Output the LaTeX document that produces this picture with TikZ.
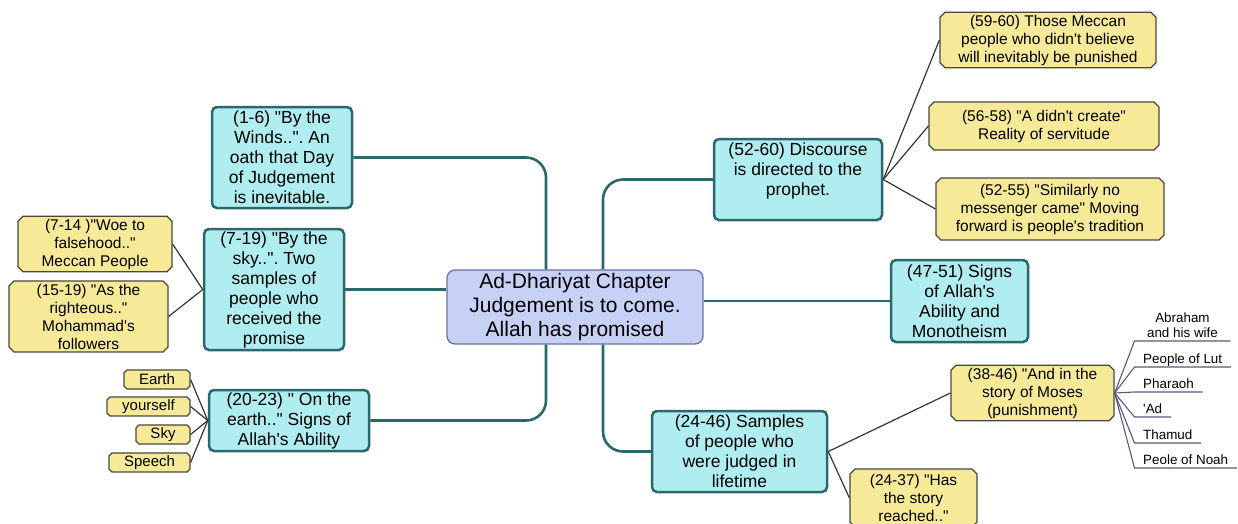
\documentclass[tikz,border=0pt]{standalone}
\usepackage{fontspec}
\setmainfont{Liberation Sans}[Ligatures=TeXOff]
\usetikzlibrary{shapes.misc}
\frenchspacing
\definecolor{cyanF}{RGB}{176,237,240}
\definecolor{tealB}{RGB}{42,104,108}
\definecolor{yelF}{RGB}{246,234,152}
\definecolor{yelB}{RGB}{72,72,60}
\definecolor{cenF}{RGB}{199,209,245}
\definecolor{cenB}{RGB}{105,115,165}
\definecolor{fanC}{RGB}{85,90,125}
\definecolor{thinC}{RGB}{55,55,50}
\begin{document}
\begin{tikzpicture}[x=1pt,y=-1pt,
  cyanbox/.style={draw=tealB,line width=2.5pt,fill=cyanF,rounded corners=5pt,align=center,inner sep=0pt,font=\fontsize{17.5}{20}\selectfont\frenchspacing},
  ybox/.style={chamfered rectangle,chamfered rectangle xsep=2.5pt,chamfered rectangle ysep=2.5pt,draw=yelB,line width=1.2pt,fill=yelF,align=center,inner sep=0pt,font=\fontsize{15.5}{18}\selectfont\frenchspacing},
  sbox/.style={ybox,chamfered rectangle xsep=1.5pt,chamfered rectangle ysep=1.5pt,font=\fontsize{15}{17}\selectfont,minimum height=19pt},
  cbox/.style={draw=cenB,line width=1.3pt,fill=cenF,rounded corners=8pt,align=center,inner sep=0pt,font=\fontsize{21}{24}\selectfont\frenchspacing},
  branch/.style={draw=tealB,line width=2.6pt,rounded corners=20pt},
  twig/.style={draw=thinC,line width=1.2pt},
  fan/.style={draw=fanC,line width=1.1pt},
  lbl/.style={inner xsep=8.5pt,inner ysep=3pt,anchor=south west,font=\fontsize{13.4}{15}\selectfont},
  lblone/.style={lbl,text depth=0pt}
]
\useasboundingbox (0,0) rectangle (1238,523);
\fill[white] (0,0) rectangle (1238,523);

% centre
\node[cbox,minimum width=256pt,minimum height=74pt] (c) at (575,307) {Ad-Dhariyat Chapter\\Judgement is to come.\\Allah has promised};

% left side
\node[cyanbox,minimum width=140pt,minimum height=101pt] (n16) at (282,157.5) {(1-6) "By the\\Winds..". An\\oath that Day\\of Judgement\\is inevitable.};
\node[cyanbox,minimum width=140pt,minimum height=121pt] (n719) at (274,289.5) {(7-19) "By the\\sky..". Two\\samples of\\people who\\received the\\promise};
\node[ybox,minimum width=154pt,minimum height=54pt] (n714) at (95,244) {(7-14 )"Woe to\\falsehood.."\\Meccan People};
\node[ybox,minimum width=159pt,minimum height=71pt] (n1519) at (88.5,316.5) {(15-19) "As the\\righteous.."\\Mohammad's\\followers};
\node[cyanbox,minimum width=160pt,minimum height=61pt] (n2023) at (289,420.5) {(20-23) " On the\\earth.." Signs of\\Allah's Ability};
\node[sbox,minimum width=66pt] (earth) at (157,379.5) {Earth};
\node[sbox,minimum width=83pt] (yours) at (148.5,406.5) {yourself};
\node[sbox,minimum width=54pt] (sky) at (163,434.5) {Sky};
\node[sbox,minimum width=81pt] (speech) at (149.5,462.5) {Speech};

% right side
\node[cyanbox,minimum width=168pt,minimum height=81pt] (n5260) at (798,179.5) {(52-60) Discourse\\is directed to the\\prophet.\\\mbox{}};
\node[ybox,minimum width=216pt,minimum height=54pt] (n5960) at (1048,40) {(59-60) Those Meccan\\people who didn't believe\\will inevitably be punished};
\node[ybox,minimum width=230pt,minimum height=48pt] (n5658) at (1044,126) {(56-58) "A didn't create"\\Reality of servitude};
\node[ybox,minimum width=228pt,minimum height=62pt] (n5255) at (1050,209) {(52-55) "Similarly no\\messenger came" Moving\\forward is people's tradition};
\node[cyanbox,minimum width=137pt,minimum height=82pt] (n4751) at (959.5,301) {(47-51) Signs\\of Allah's\\Ability and\\Monotheism};
\node[cyanbox,minimum width=175pt,minimum height=81pt] (n2446) at (739.5,451.5) {(24-46) Samples\\of people who\\were judged in\\lifetime};
\node[ybox,minimum width=163pt,minimum height=54pt] (n3846) at (1032.5,393) {(38-46) "And in the\\story of Moses\\(punishment)};
\node[ybox,minimum width=127pt,minimum height=58pt] (n2437) at (913.5,498) {(24-37) "Has\\the story\\reached.."};

% labels on the far right
\node[lbl,align=center,minimum width=95.5pt] (abr) at (1134.5,341) {Abraham\\and his wife};
\node[lblone] (lut) at (1134.5,367) {People of Lut};
\node[lblone] (pha) at (1134.5,392) {Pharaoh};
\node[lblone] (ad) at (1134.5,417) {'Ad};
\node[lblone] (tha) at (1134.5,443) {Thamud};
\node[lblone] (noah) at (1134.5,468) {Peole of Noah};

% main branches
\draw[branch] ([xshift=-29pt]c.north) |- (n16.east);
\draw[branch] ([xshift=-29pt]c.south) |- (n2023.east);
\draw[branch] ([xshift=28pt]c.north) |- (n5260.west);
\draw[branch] ([xshift=28pt]c.south) |- (n2446.west);
\draw[branch] (n719.east) -- (n719.east -| c.west);
\draw[branch] (n4751.west) -- (n4751.west -| c.east);

% thin connectors
\draw[twig] (n719.west) -- (n714.east);
\draw[twig] (n719.west) -- (n1519.east);
\draw[twig] (n2023.west) -- (earth.east);
\draw[twig] (n2023.west) -- (yours.east);
\draw[twig] (n2023.west) -- (sky.east);
\draw[twig] (n2023.west) -- (speech.east);
\draw[twig] (n5260.east) -- (n5960.west);
\draw[twig] (n5260.east) -- (n5658.west);
\draw[twig] (n5260.east) -- (n5255.west);
\draw[twig] (n2446.east) -- (n3846.west);
\draw[twig] (n2446.east) -- (n2437.west);

% fan with underlines
\foreach \l in {abr,lut,pha,ad,tha,noah}{
  \draw[fan] (n3846.east) -- (\l.south west) -- (\l.south east);
}
\end{tikzpicture}
\end{document}
